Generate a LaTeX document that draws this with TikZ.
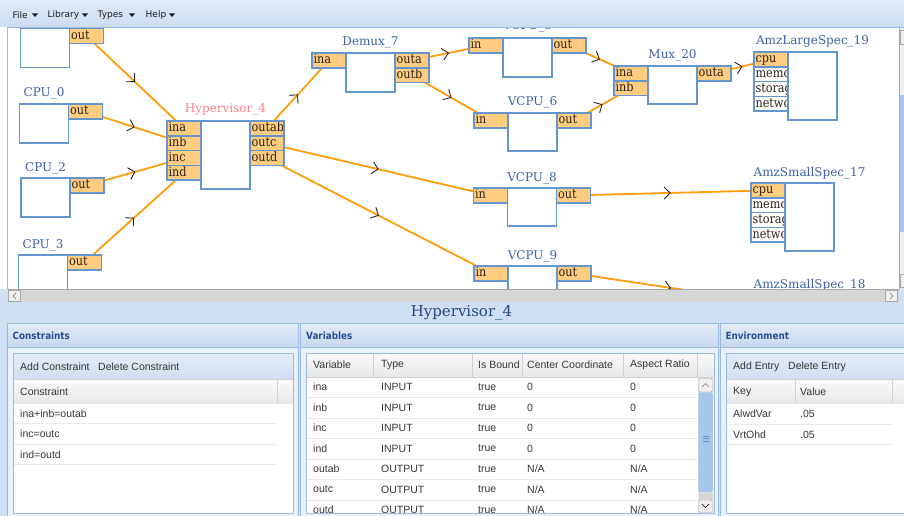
\documentclass[tikz,border=0pt]{standalone}
\usepackage{fontspec}
\usetikzlibrary{arrows.meta,decorations.markings,calc}
\newfontfamily\cfont{DejaVu Serif}
\newfontfamily\pfont[FakeStretch=0.88]{DejaVu Serif}
\newfontfamily\menufont{DejaVu Sans}
\newfontfamily\hdfont[FakeStretch=0.88]{DejaVu Sans}
\newfontfamily\tblfont{Liberation Sans}

\definecolor{nodeblue}{RGB}{100,150,205}
\definecolor{portfill}{RGB}{255,204,128}
\definecolor{porttext}{RGB}{45,35,25}
\definecolor{wireorange}{RGB}{255,158,10}
\definecolor{labelblue}{RGB}{62,96,168}
\definecolor{hvpink}{RGB}{255,130,135}
\definecolor{menutop}{RGB}{224,234,247}
\definecolor{menubot}{RGB}{204,220,240}
\definecolor{uiline}{RGB}{153,187,232}
\definecolor{hdrtext}{RGB}{40,80,150}
\definecolor{hdtop}{RGB}{226,235,248}
\definecolor{hdbot}{RGB}{198,215,238}
\definecolor{panelbg}{RGB}{208,224,244}
\definecolor{panelin}{RGB}{234,241,250}
\definecolor{tbtop}{RGB}{228,236,248}
\definecolor{tbbot}{RGB}{208,222,240}
\definecolor{chtop}{RGB}{250,250,250}
\definecolor{chbot}{RGB}{230,231,233}
\definecolor{chline}{RGB}{208,208,208}
\definecolor{rowline}{RGB}{234,234,234}
\definecolor{celltext}{RGB}{55,55,55}
\definecolor{scrolltrack}{RGB}{214,214,214}
\definecolor{scrolledge}{RGB}{168,168,168}
\definecolor{btnfill}{RGB}{238,238,238}
\definecolor{thumbblue}{RGB}{168,197,236}
\definecolor{titleblue}{RGB}{40,70,140}
\definecolor{menutext}{RGB}{30,30,30}

\pgfdeclarelayer{ui}
\pgfdeclarelayer{wires}
\pgfdeclarelayer{chrome}
\pgfsetlayers{ui,wires,main,chrome}

\tikzset{
  body/.style={draw=nodeblue, fill=white, line width=1.5pt, minimum width=49pt,
    inner sep=0pt, outer sep=0pt, anchor=north west},
  port/.style={draw=nodeblue, fill=portfill, line width=1.5pt, minimum width=34pt,
    minimum height=14.8pt, inner sep=0pt, outer sep=0pt, anchor=north west},
  specport/.style={port, fill=white},
  ptext/.style={path picture={\node[anchor=west, inner sep=0pt, outer sep=0pt,
    minimum width=0pt, minimum height=0pt, draw=none, fill=none,
    text height=9pt, text depth=2.5pt, font=\pfont\fontsize{12.8}{14}\selectfont,
    text=porttext] at ([xshift=1.5pt]path picture bounding box.west) {#1};}},
  clabel/.style={font=\cfont\fontsize{12}{14}\selectfont, text=labelblue,
    anchor=base, inner sep=0pt},
  wire/.style={draw=wireorange, line width=1.8pt,
    postaction={decorate, decoration={markings, mark=at position 0.5 with
      {\arrow[black!85, line width=0.9pt]{Straight Barb[length=6pt,width=12pt]}}}}},
  menuitem/.style={font=\menufont\fontsize{9}{11}\selectfont, text=menutext,
    anchor=west, inner sep=0pt},
  hdr/.style={font=\hdfont\bfseries\fontsize{10}{12}\selectfont, text=hdrtext,
    anchor=west, inner sep=0pt},
  cell/.style={font=\tblfont\fontsize{10.5}{12}\selectfont, text=celltext,
    anchor=west, inner sep=0pt},
  tool/.style={font=\tblfont\fontsize{10.5}{12}\selectfont, text=celltext,
    anchor=west, inner sep=0pt},
}

\begin{document}
\begin{tikzpicture}[x=1pt,y=-1pt]
\useasboundingbox (0,0) rectangle (904,516);

% canvas background
\begin{pgfonlayer}{ui}
  \fill[white] (0,0) rectangle (904,516);
  \draw[uiline, line width=1pt] (7.5,27) -- (7.5,290);
\end{pgfonlayer}

% ---------- components ----------
% CPU (top, partly scrolled out)
\node[body, minimum height=39] (cpuA) at (20.5,28.5) {};
\node[port, ptext=out] (cpuA-out) at (69.5,28.5) {};

% CPU_0
\node[body, minimum height=39] (cpu0) at (19.5,104) {};
\node[port, ptext=out] (cpu0-out) at (68.5,104) {};
\node[clabel] (cpu0-lab) at ([yshift=7pt]cpu0.north) {CPU\_0};

% CPU_2
\node[body, minimum height=39] (cpu2) at (21,178) {};
\node[port, ptext=out] (cpu2-out) at (70,178) {};
\node[clabel] (cpu2-lab) at ([yshift=7pt]cpu2.north) {CPU\_2};

% CPU_3
\node[body, minimum height=39] (cpu3) at (18.5,255) {};
\node[port, ptext=out] (cpu3-out) at (67.5,255) {};
\node[clabel] (cpu3-lab) at ([yshift=7pt]cpu3.north) {CPU\_3};

% Hypervisor_4
\node[body, minimum height=68] (hv) at (201,121) {};
\node[port, ptext=ina] (hv-ina) at (167,121) {};
\node[port, ptext=inb] (hv-inb) at (167,135.8) {};
\node[port, ptext=inc] (hv-inc) at (167,150.6) {};
\node[port, ptext=ind] (hv-ind) at (167,165.4) {};
\node[port, ptext=outab] (hv-outab) at (250,121) {};
\node[port, ptext=outc] (hv-outc) at (250,135.8) {};
\node[port, ptext=outd] (hv-outd) at (250,150.6) {};
\node[clabel, text=hvpink] (hv-lab) at ([yshift=8pt]hv.north) {Hypervisor\_4};

% Demux_7
\node[body, minimum height=39] (dmx) at (346,53) {};
\node[port, ptext=ina] (dmx-ina) at (312,53) {};
\node[port, ptext=outa] (dmx-outa) at (395,53) {};
\node[port, ptext=outb] (dmx-outb) at (395,67.8) {};
\node[clabel] (dmx-lab) at ([yshift=7pt]dmx.north) {Demux\_7};

% VCPU_5
\node[body, minimum height=39] (v5) at (503,38) {};
\node[port, ptext=in] (v5-in) at (469,38) {};
\node[port, ptext=out] (v5-out) at (552,38) {};
\node[clabel] (v5-lab) at ([yshift=8pt]v5.north) {VCPU\_5};

% VCPU_6
\node[body, minimum height=38] (v6) at (508,113) {};
\node[port, ptext=in] (v6-in) at (474,113) {};
\node[port, ptext=out] (v6-out) at (557,113) {};
\node[clabel] (v6-lab) at ([yshift=7pt]v6.north) {VCPU\_6};

% Mux_20
\node[body, minimum height=38] (mux) at (648,66) {};
\node[port, ptext=ina] (mux-ina) at (614,66) {};
\node[port, ptext=inb] (mux-inb) at (614,80.8) {};
\node[port, ptext=outa] (mux-outa) at (697,66) {};
\node[clabel] (mux-lab) at ([yshift=7pt]mux.north) {Mux\_20};

% AmzLargeSpec_19
\node[port, ptext=cpu] (l19-cpu) at (754,52) {};
\node[specport, ptext=memory] (l19-mem) at (754,66.8) {};
\node[specport, ptext=storage] (l19-sto) at (754,81.6) {};
\node[specport, ptext=network] (l19-net) at (754,96.4) {};
\node[body, minimum height=68] (l19) at (788,52) {};
\node[clabel] (l19-lab) at ([yshift=7pt]l19.north) {AmzLargeSpec\_19};

% VCPU_8
\node[body, minimum height=38] (v8) at (507.5,188) {};
\node[port, ptext=in] (v8-in) at (473.5,188) {};
\node[port, ptext=out] (v8-out) at (556.5,188) {};
\node[clabel] (v8-lab) at ([yshift=7pt]v8.north) {VCPU\_8};

% AmzSmallSpec_17
\node[port, ptext=cpu] (s17-cpu) at (751,183) {};
\node[specport, ptext=memory] (s17-mem) at (751,197.8) {};
\node[specport, ptext=storage] (s17-sto) at (751,212.6) {};
\node[specport, ptext=network] (s17-net) at (751,227.4) {};
\node[body, minimum height=68] (s17) at (785,183) {};
\node[clabel] (s17-lab) at ([yshift=7pt]s17.north) {AmzSmallSpec\_17};

% VCPU_9
\node[body, minimum height=39] (v9) at (508,266) {};
\node[port, ptext=in] (v9-in) at (474,266) {};
\node[port, ptext=out] (v9-out) at (557,266) {};
\node[clabel] (v9-lab) at ([yshift=7pt]v9.north) {VCPU\_9};

% AmzSmallSpec_18
\node[port, ptext=cpu] (s18-cpu) at (751,295) {};
\node[body, minimum height=68] (s18) at (785,295) {};
\node[clabel] (s18-lab) at ([yshift=7pt]s18.north) {AmzSmallSpec\_18};

% ---------- connections ----------
\begin{pgfonlayer}{wires}
  \draw[wire] (cpuA-out.center) -- (hv-ina.center);
  \draw[wire] (cpu0-out.center) -- (hv-inb.center);
  \draw[wire] (cpu2-out.center) -- (hv-inc.center);
  \draw[wire] (cpu3-out.center) -- (hv-ind.center);
  \draw[wire] (hv-outab.center) -- (dmx-ina.center);
  \draw[wire] (hv-outc.center) -- (v8-in.center);
  \draw[wire] (hv-outd.center) -- (v9-in.center);
  \draw[wire] (dmx-outa.center) -- (v5-in.center);
  \draw[wire] (dmx-outb.center) -- (v6-in.center);
  \draw[wire] (v5-out.center) -- (mux-ina.center);
  \draw[wire] (v6-out.center) -- (mux-inb.center);
  \draw[wire] (mux-outa.center) -- (l19-cpu.center);
  \draw[wire] (v8-out.center) -- (s17-cpu.center);
  \draw[wire] (v9-out.center) -- (s18-cpu.center);
\end{pgfonlayer}

% ---------- window chrome ----------
\begin{pgfonlayer}{chrome}
  % menu bar
  \shade[top color=menutop, bottom color=menubot] (0,0) rectangle (904,27.5);
  \draw[uiline] (0,27.5) -- (904,27.5);
  \node[menuitem] (m-file) at (12.5,15) {File};
  \fill[menutext] (32,13.5) -- ++(6,0) -- ++(-3,3.5) -- cycle;
  \node[menuitem] (m-lib) at (47.5,15) {Library};
  \fill[menutext] (82,13.5) -- ++(6,0) -- ++(-3,3.5) -- cycle;
  \node[menuitem] (m-types) at (97.5,15) {Types};
  \fill[menutext] (129,13.5) -- ++(6,0) -- ++(-3,3.5) -- cycle;
  \node[menuitem] (m-help) at (145.5,15) {Help};
  \fill[menutext] (169,13.5) -- ++(6,0) -- ++(-3,3.5) -- cycle;

  % canvas vertical scrollbar
  \fill[btnfill] (899,28) rectangle (904,289);
  \draw[scrolledge] (899,28) -- (899,289);
  \fill[thumbblue] (900,95) rectangle (904,232);
  \draw[scrolledge] (900,30) rectangle (904,44);
  \draw[scrolledge] (900,274) rectangle (904,287);

  % lower area
  \fill[panelbg] (0,289) rectangle (904,516);
  \fill[white] (0,27.5) rectangle (7,289);
  % horizontal scrollbar
  \fill[scrolltrack] (7.5,289.5) rectangle (899,302);
  \draw[scrolledge] (7.5,289.5) -- (899,289.5);
  \draw[scrolledge, fill=btnfill] (8.5,290.5) rectangle (20.5,301.5);
  \draw[gray] (16,293) -- (13,296) -- (16,299);
  \draw[scrolledge, fill=btnfill] (885.5,290.5) rectangle (897.5,301.5);
  \draw[gray] (890,293) -- (893,296) -- (890,299);

  % selected component title
  \node[font=\cfont\fontsize{15}{18}\selectfont, text=titleblue, inner sep=0pt]
    (sel-title) at (461.5,313) {Hypervisor\_4};

  % ===== Constraints panel =====
  \draw[uiline, fill=panelin] (7.5,323.5) rectangle (298.5,516.5);
  \shade[top color=hdtop, bottom color=hdbot] (8,324) rectangle (298,347.5);
  \draw[uiline] (8,347.5) -- (298,347.5);
  \node[hdr] (c-hdr) at (12.5,335.5) {Constraints};
  \fill[white] (13,353) rectangle (293,513);
  \shade[top color=tbtop, bottom color=tbbot] (13,353) rectangle (293,379.5);
  \shade[top color=chtop, bottom color=chbot] (13,379.5) rectangle (293,403);
  \draw[chline] (13,379.5) -- (293,379.5);
  \draw[chline] (277,380) -- (277,403);
  \foreach \yy in {423.5,444,464.5} \draw[rowline] (14,\yy) -- (277,\yy);
  \draw[uiline] (13,353) rectangle (293,513);
  \node[tool] (c-add) at (20,367) {Add Constraint};
  \node[tool] (c-del) at (98,367) {Delete Constraint};
  \node[cell] (c-col) at (20,391.5) {Constraint};
  \node[cell] (c-r1) at (20,413.5) {ina+inb=outab};
  \node[cell] (c-r2) at (20,434) {inc=outc};
  \node[cell] (c-r3) at (20,454.5) {ind=outd};

  % ===== Variables panel =====
  \draw[uiline, fill=panelin] (300.5,323.5) rectangle (718,516.5);
  \shade[top color=hdtop, bottom color=hdbot] (301,324) rectangle (717.5,347.5);
  \draw[uiline] (301,347.5) -- (717.5,347.5);
  \node[hdr] (v-hdr) at (306,335.5) {Variables};
  \fill[white] (306,353) rectangle (714,513);
  \shade[top color=chtop, bottom color=chbot] (306,353) rectangle (714,377);
  \foreach \xx in {373,472,522,623,697} \draw[chline] (\xx,353) -- (\xx,377);
  \draw[chline] (306,377) -- (714,377);
  \node[cell] (v-c1) at (313,365) {Variable};
  \node[cell] (v-c2) at (381,365) {Type};
  \node[cell] (v-c3) at (478,365) {Is Bound};
  \node[cell] (v-c4) at (527,365) {Center Coordinate};
  \node[cell] (v-c5) at (630,365) {Aspect Ratio};
  \begin{scope}
    \clip (306,377.5) rectangle (697,512.5);
    \foreach \vn/\vt/\vb/\vc/\va [count=\i] in
      {ina/INPUT/true/0/0, inb/INPUT/true/0/0, inc/INPUT/true/0/0,
       ind/INPUT/true/0/0, outab/OUTPUT/true/N\slash A/N\slash A,
       outc/OUTPUT/true/N\slash A/N\slash A, outd/OUTPUT/true/N\slash A/N\slash A} {
      \node[cell] (v-\i-1) at (313,{387+20.5*(\i-1)}) {\vn};
      \node[cell] (v-\i-2) at (381,{387+20.5*(\i-1)}) {\vt};
      \node[cell] (v-\i-3) at (478,{387+20.5*(\i-1)}) {\vb};
      \node[cell] (v-\i-4) at (527,{387+20.5*(\i-1)}) {\vc};
      \node[cell] (v-\i-5) at (630,{387+20.5*(\i-1)}) {\va};
      \draw[rowline] (307,{397.5+20.5*(\i-1)}) -- (697,{397.5+20.5*(\i-1)});
    }
  \end{scope}
  % table scrollbar
  \fill[btnfill] (697.5,377.5) rectangle (713.5,513);
  \draw[scrolledge, fill=btnfill, rounded corners=1.5pt] (698.5,378.5) rectangle (712.5,392);
  \draw[gray] (702,387) -- (705.5,383.5) -- (709,387);
  \draw[nodeblue!70, fill=thumbblue, rounded corners=1.5pt] (698.5,392.5) rectangle (712.5,492);
  \foreach \yy in {436,438.5,441} \draw[nodeblue] (702.5,\yy) -- (708.5,\yy);
  \fill[scrolltrack] (698.5,492.5) rectangle (712.5,500);
  \draw[scrolledge, fill=btnfill, rounded corners=1.5pt] (698.5,500) rectangle (712.5,512.5);
  \draw[black] (702,504) -- (705.5,507.5) -- (709,504);
  \draw[uiline] (306,353) rectangle (714,513);

  % ===== Environment panel =====
  \draw[uiline, fill=panelin] (720.5,323.5) rectangle (906,516.5);
  \shade[top color=hdtop, bottom color=hdbot] (721,324) rectangle (906,347.5);
  \draw[uiline] (721,347.5) -- (906,347.5);
  \node[hdr] (e-hdr) at (725.5,335.5) {Environment};
  \fill[white] (726,353) rectangle (906,513);
  \shade[top color=tbtop, bottom color=tbbot] (726,353) rectangle (906,379.5);
  \shade[top color=chtop, bottom color=chbot] (726,379.5) rectangle (906,403);
  \draw[chline] (726,379.5) -- (906,379.5);
  \draw[chline] (795,380) -- (795,403);
  \draw[chline] (892,380) -- (892,403);
  \foreach \yy in {424,444.5} \draw[rowline] (727,\yy) -- (892,\yy);
  \draw[uiline] (726,353) rectangle (906,513);
  \node[tool] (e-add) at (733,367) {Add Entry};
  \node[tool] (e-del) at (788,367) {Delete Entry};
  \node[cell] (e-key) at (733,391.5) {Key};
  \node[cell] (e-val) at (800,391.5) {Value};
  \node[cell] (e-k1) at (733,414) {AlwdVar};
  \node[cell] (e-v1) at (800,414) {.05};
  \node[cell] (e-k2) at (733,434.5) {VrtOhd};
  \node[cell] (e-v2) at (800,434.5) {.05};
\end{pgfonlayer}
\end{tikzpicture}
\end{document}
